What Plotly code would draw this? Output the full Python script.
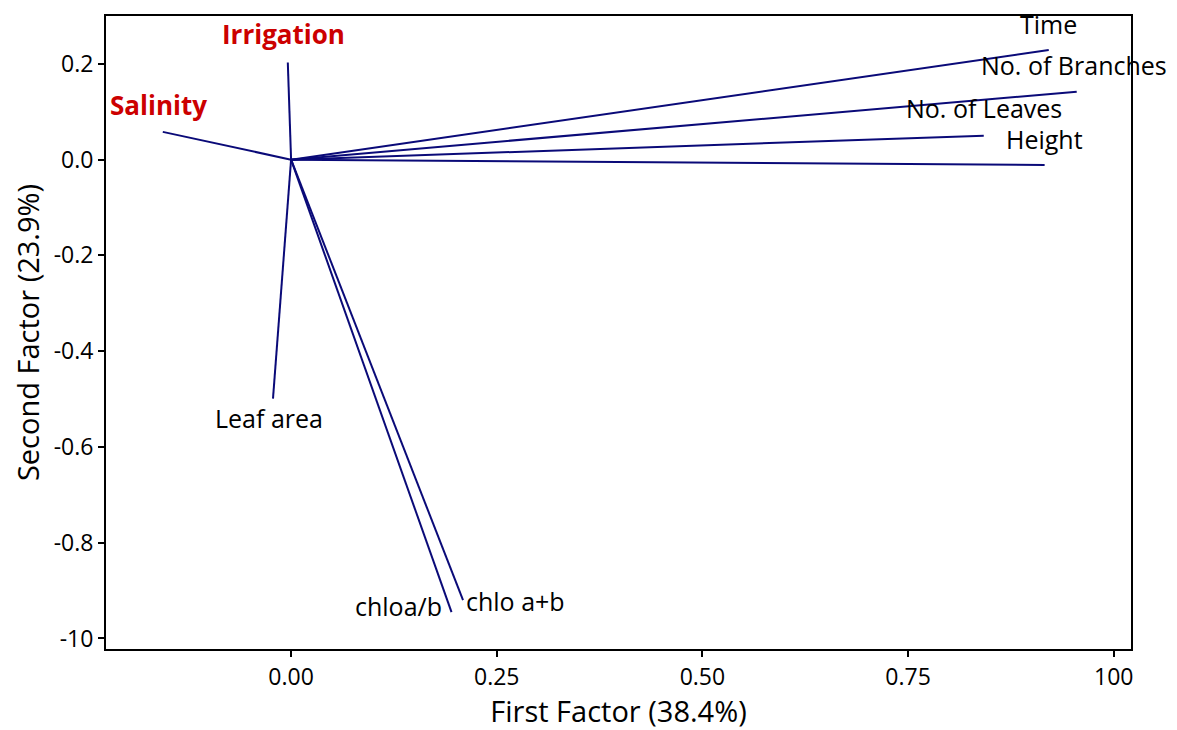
import plotly.graph_objects as go

variables = ["Time", "No. of Branches", "No. of Leaves", "Height",
             "Salinity", "Irrigation", "Leaf area", "chloa/b", "chlo a+b"]
first_factor = [0.921, 0.955, 0.842, 0.916, -0.156, -0.004, -0.022, 0.195, 0.209]
second_factor = [0.229, 0.142, 0.050, -0.011, 0.058, 0.203, -0.499, -0.945, -0.920]
highlight = ["Salinity", "Irrigation"]
label_offsets = {  # pixel offsets of labels relative to vector tips
    "Time": (0, 26), "No. of Branches": (-3, 27), "No. of Leaves": (0, 28),
    "Height": (0, 26), "Salinity": (-4, 27), "Irrigation": (-4, 28),
    "Leaf area": (-4, -19), "chloa/b": (-53, 6), "chlo a+b": (52, -1),
}

x_ticks = [0.0, 0.25, 0.5, 0.75, 1.0]
x_ticklabels = ["0.00", "0.25", "0.50", "0.75", "100"]
y_ticks = [0.2, 0.0, -0.2, -0.4, -0.6, -0.8, -1.0]
y_ticklabels = ["0.2", "0.0", "-0.2", "-0.4", "-0.6", "-0.8", "-10"]

FONT = "Open Sans"
fig = go.Figure()
for name, fx, fy in zip(variables, first_factor, second_factor):
    fig.add_trace(go.Scatter(x=[0, fx], y=[0, fy], mode="lines",
                             line=dict(color="#0a0a78", width=2),
                             showlegend=False, hoverinfo="skip"))
    dx, dy = label_offsets[name]
    red = name in highlight
    fig.add_annotation(x=fx, y=fy, xshift=dx, yshift=dy, showarrow=False,
                       text=f"<b>{name}</b>" if red else name,
                       font=dict(family=FONT, size=26 if red else 25,
                                 color="#cc0000" if red else "black"),
                       xanchor="center", yanchor="middle")

axis_common = dict(showline=True, linecolor="black", linewidth=2, mirror=True,
                   ticks="outside", ticklen=6, tickwidth=2, tickcolor="black",
                   showgrid=False, zeroline=False,
                   tickfont=dict(family=FONT, size=23, color="black"))
fig.update_xaxes(range=[-0.225, 1.021], tickvals=x_ticks, ticktext=x_ticklabels,
                 title=dict(text="First Factor (38.4%)",
                            font=dict(family=FONT, size=29, color="black"),
                            standoff=12),
                 **axis_common)
fig.update_yaxes(range=[-1.022, 0.300], tickvals=y_ticks, ticktext=y_ticklabels,
                 title=dict(text="Second Factor (23.9%)",
                            font=dict(family=FONT, size=29, color="black"),
                            standoff=8),
                 **axis_common)
fig.update_layout(width=1169, height=722, plot_bgcolor="white",
                  paper_bgcolor="white",
                  margin=dict(l=98, r=46, t=6, b=78))
fig.write_html("out.html")
